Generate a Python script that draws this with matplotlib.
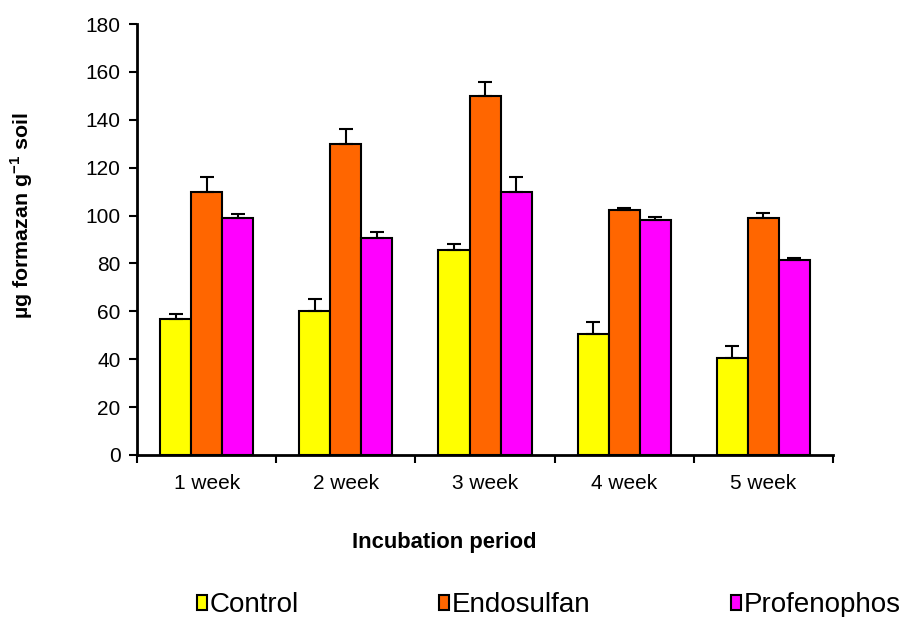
import numpy as np
import matplotlib.pyplot as plt

plt.rcParams['font.family'] = ['Liberation Sans', 'DejaVu Sans']
plt.rcParams['mathtext.fontset'] = 'custom'
plt.rcParams['mathtext.rm'] = 'Liberation Sans'
plt.rcParams['mathtext.bf'] = 'Liberation Sans:bold'

# Data
weeks = ["1 week", "2 week", "3 week", "4 week", "5 week"]
control = [57, 60, 85.5, 50.5, 40.4]
control_err = [2, 5, 2.5, 5, 5]
endosulfan = [110, 130, 150, 102.3, 99]
endosulfan_err = [6, 6, 6, 1, 2]
profenophos = [99, 90.5, 110, 98.2, 81.4]
profenophos_err = [1.5, 2.5, 6, 1, 1]

series = [("Control", control, control_err, "#FFFF00"),
          ("Endosulfan", endosulfan, endosulfan_err, "#FF6600"),
          ("Profenophos", profenophos, profenophos_err, "#FF00FF")]

fig = plt.figure(figsize=(9.02, 6.17), dpi=100)
ax = fig.add_axes([0.152, 0.2626, 0.7715, 0.6984])

x = np.arange(len(weeks))
width = 0.223
for i, (name, vals, err, color) in enumerate(series):
    pos = x + (i - 1) * width
    ax.bar(pos, vals, width, color=color, edgecolor="black", linewidth=1.5,
           label=name, zorder=2)
    ax.errorbar(pos, vals, yerr=[np.zeros(len(err)), err], fmt="none",
                ecolor="black", elinewidth=1.5, capsize=5, capthick=1.5, zorder=3)

ax.set_xlim(-0.5, len(weeks) - 0.5)
ax.set_ylim(0, 180)
ax.set_yticks(np.arange(0, 181, 20))
ax.set_xticks(x)
ax.set_xticklabels(weeks)
ax.set_xticks(np.arange(-0.5, len(weeks)), minor=True)
ax.tick_params(axis="x", which="major", length=0, pad=14, labelsize=15)
ax.tick_params(axis="x", which="minor", length=6, width=1.5, direction="out")
ax.tick_params(axis="y", length=6, width=1.5, direction="out", labelsize=15, pad=6)

for s in ["top", "right"]:
    ax.spines[s].set_visible(False)
for s in ["left", "bottom"]:
    ax.spines[s].set_linewidth(2)

fig.text(0.492, 0.121, "Incubation period", ha="center", va="center",
         fontsize=15.8, fontweight="bold")
fig.text(0.024, 0.651, r"µg formazan g$^{\mathbf{-1}}$ soil", rotation=90,
         ha="center", va="center", fontsize=15.4, fontweight="bold")

fig.legend(loc="center", bbox_to_anchor=(0.6085, 0.0194), ncol=3, frameon=False,
           fontsize=20, handlelength=0.36, handleheight=0.45, handletextpad=0.1,
           columnspacing=5.05, borderpad=0)

fig.savefig("out.png", dpi=100)
